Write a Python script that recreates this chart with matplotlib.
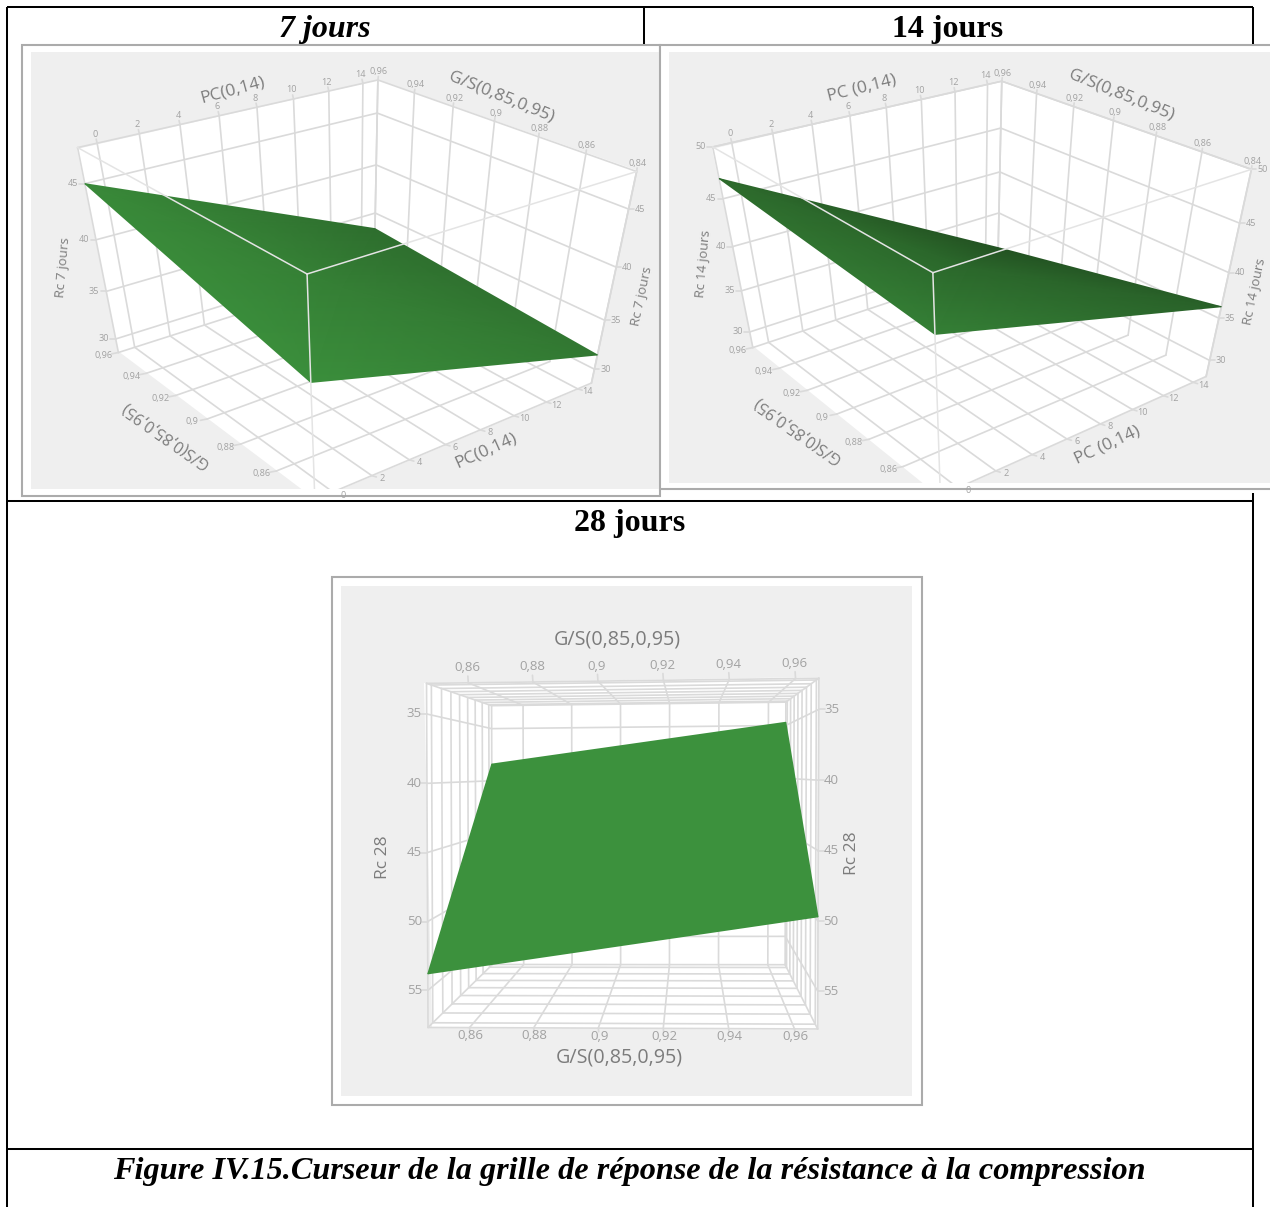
import numpy as np
import matplotlib
matplotlib.use("Agg")
import matplotlib.pyplot as plt
from matplotlib.colors import LinearSegmentedColormap
from matplotlib.patches import Rectangle, Polygon

# axis ticks
gs_ticks_top = [0.96, 0.94, 0.92, 0.9, 0.88, 0.86, 0.84]
gs_ticks_low = [0.96, 0.94, 0.92, 0.9, 0.88, 0.86]
gs_ticks_28 = [0.86, 0.88, 0.9, 0.92, 0.94, 0.96]
pc_ticks = [0, 2, 4, 6, 8, 10, 12, 14]
rc_ticks_7 = [30, 35, 40, 45]
rc_ticks_14 = [30, 35, 40, 45, 50]
rc_ticks_28 = [35, 40, 45, 50, 55]

# surface corners, order: (gs low, pc low), (gs low, pc high), (gs high, pc low), (gs high, pc high)
surf_7 = [39.6, 31.5, 45.0, 33.3]
surf_14 = [44.8, 36.3, 47.0, 30.5]
surf_28 = [53.8, 38.4, 49.7, 34.7]

# box limits of each plot
gs_lim = [0.84, 0.96]
gs_lim_28 = [0.847, 0.967]
pc_lim = [-0.9, 14.9]
rc_lim_7 = [28.5, 48.0]
rc_lim_14 = [28.0, 50.0]
rc_lim_28 = [32.8, 57.7]

GRID = "#dadada"
TICK = "#a2a2a2"
LABEL = "#7c7c7c"
SANS = "Open Sans"
SERIF = "Liberation Serif"


def fit_camera(corners, gs, pc, rc):
    # projective camera from the 8 box corners (pixel places on the page)
    rows = []
    for (i, j, k), (u, v) in corners.items():
        p = [gs[i], pc[j], rc[k], 1.0]
        rows.append(p + [0, 0, 0, 0] + [-u * c for c in p])
        rows.append([0, 0, 0, 0] + p + [-v * c for c in p])
    A = np.array(rows)
    _, _, vt = np.linalg.svd(A / np.abs(A).max(axis=0))
    m = vt[-1] / np.abs(A).max(axis=0)
    return m.reshape(3, 4)


def project(cam, gs, pc, rc):
    q = cam @ np.array([gs, pc, rc, 1.0])
    return q[0] / q[2], q[1] / q[2]


def seg(ax, clip, a, b, color=GRID, lw=1.2, z=2):
    line, = ax.plot([a[0], b[0]], [a[1], b[1]], color=color, lw=lw, zorder=z, solid_capstyle="round")
    if clip is not None:
        line.set_clip_path(clip)


def tick_text(ax, clip, p, off, s, size):
    seg(ax, clip, p, (p[0] + off[0] * 0.45, p[1] + off[1] * 0.45))
    t = ax.text(p[0] + off[0], p[1] + off[1], s, color=TICK, fontsize=size, family=SANS,
                ha="center", va="center", zorder=6)
    if clip is not None:
        t.set_clip_path(clip)


def fmt(v):
    return f"{v:g}".replace(".", ",")


def draw_grid(ax, clip, cam, gs, pc, rc, gs_t, pc_t, rc_t, faces):
    for axis, val in faces:
        if axis != 0:
            for g in gs_t:
                a = [g, pc[0], rc[0]]
                b = [g, pc[1], rc[1]]
                a[axis] = val
                b[axis] = val
                if axis == 1:
                    a[2], b[2] = rc[0], rc[1]
                else:
                    a[1], b[1] = pc[0], pc[1]
                seg(ax, clip, project(cam, *a), project(cam, *b))
        if axis != 1:
            for c in pc_t:
                a = [gs[0], c, rc[0]]
                b = [gs[1], c, rc[1]]
                a[axis] = val
                b[axis] = val
                if axis == 0:
                    a[2], b[2] = rc[0], rc[1]
                else:
                    a[0], b[0] = gs[0], gs[1]
                seg(ax, clip, project(cam, *a), project(cam, *b))
        if axis != 2:
            for r in rc_t:
                a = [gs[0], pc[0], r]
                b = [gs[1], pc[1], r]
                a[axis] = val
                b[axis] = val
                seg(ax, clip, project(cam, *a), project(cam, *b))


def draw_box_edges(ax, clip, cam, gs, pc, rc):
    for i in (0, 1):
        for j in (0, 1):
            seg(ax, clip, project(cam, gs[i], pc[j], rc[0]), project(cam, gs[i], pc[j], rc[1]))
            seg(ax, clip, project(cam, gs[i], pc[0], rc[j]), project(cam, gs[i], pc[1], rc[j]))
            seg(ax, clip, project(cam, gs[0], pc[i], rc[j]), project(cam, gs[1], pc[i], rc[j]))


def draw_surface(ax, clip, cam, gs, pc, values, shades, cmap):
    xs = np.zeros((2, 2))
    ys = np.zeros((2, 2))
    cs = np.array(shades, dtype=float).reshape(2, 2)
    vals = np.array(values).reshape(2, 2)
    for i in (0, 1):
        for j in (0, 1):
            xs[i, j], ys[i, j] = project(cam, gs[i], pc[j], vals[i, j])
    mesh = ax.pcolormesh(xs, ys, cs, shading="gouraud", cmap=cmap, vmin=0, vmax=1, zorder=4)
    mesh.set_clip_path(clip)


def frame(ax, x0, y0, x1, y1, bg):
    ax.add_patch(Rectangle((x0, y0), x1 - x0, y1 - y0, fc="white", ec="#ababab", lw=1.5, zorder=1))
    ax.add_patch(Rectangle((bg[0], bg[1]), bg[2] - bg[0], bg[3] - bg[1], fc="#efefef", ec="none", zorder=1))
    clip = Rectangle((bg[0], bg[1]), bg[2] - bg[0], bg[3] - bg[1], transform=ax.transData)
    return clip


def corner_panel(ax, clip, corners, rc, rc_t, values, shades, rc_name, pc_name, label_pos, rc_off):
    cam = fit_camera(corners, gs_lim, pc_lim, rc)
    hull = [corners[k] for k in [(1, 0, 1), (1, 1, 1), (0, 1, 1), (0, 1, 0), (0, 0, 0), (1, 0, 0)]]
    white = Polygon(hull, fc="white", ec="none", zorder=1.5)
    ax.add_patch(white)
    white.set_clip_path(clip)

    gs0, gs1 = gs_lim
    pc0, pc1 = pc_lim
    draw_grid(ax, clip, cam, gs_lim, pc_lim, rc, gs_ticks_top, pc_ticks, rc_t,
              [(0, gs1), (1, pc1), (2, rc[0])])
    for a, b in [((gs1, pc0, rc[1]), (gs1, pc1, rc[1])), ((gs1, pc1, rc[1]), (gs0, pc1, rc[1])),
                 ((gs1, pc0, rc[0]), (gs1, pc0, rc[1])), ((gs0, pc1, rc[0]), (gs0, pc1, rc[1])),
                 ((gs1, pc1, rc[0]), (gs1, pc1, rc[1]))]:
        seg(ax, clip, project(cam, *a), project(cam, *b))

    for c in pc_ticks:
        tick_text(ax, clip, project(cam, gs1, c, rc[1]), (-2, -9), fmt(c), 6.6)
        tick_text(ax, clip, project(cam, gs0, c, rc[0]), (10, 3), fmt(c), 6.6)
    for g in gs_ticks_top:
        tick_text(ax, clip, project(cam, g, pc1, rc[1]), (1, -8), fmt(g), 6.6)
    for g in gs_ticks_low:
        tick_text(ax, clip, project(cam, g, pc0, rc[0]), (-15, 3), fmt(g), 6.6)
    for r in rc_t:
        tick_text(ax, clip, project(cam, gs1, pc0, r), (rc_off[0], 0), fmt(r), 6.6)
        tick_text(ax, clip, project(cam, gs0, pc1, r), (rc_off[1], 0), fmt(r), 6.6)

    grad = LinearSegmentedColormap.from_list("g", ["#235222", "#3b8f3c"])
    draw_surface(ax, clip, cam, gs_lim, pc_lim, values, shades, grad)

    # front edges of the box run over the surface
    for a, b in [((gs1, pc0, rc[1]), (gs0, pc0, rc[1])), ((gs0, pc0, rc[1]), (gs0, pc1, rc[1])),
                 ((gs0, pc0, rc[1]), (gs0, pc0, rc[0]))]:
        pa = project(cam, *a)
        pb = project(cam, *b)
        line, = ax.plot([pa[0], pb[0]], [pa[1], pb[1]], color="#e4e4e4", lw=1.1, zorder=5)
        line.set_clip_path(clip)

    names = ["G/S(0,85,0,95)", pc_name, "G/S(0,85,0,95)", pc_name, rc_name, rc_name]
    sizes = [12.5, 12.5, 11.5, 12.5, 9.5, 9.5]
    for (x, y, rot), name, size in zip(label_pos, names, sizes):
        ax.text(x, y, name, color=LABEL, fontsize=size, family=SANS, rotation=rot,
                rotation_mode="anchor", ha="center", va="center", zorder=6)


fig = plt.figure(figsize=(12.7, 12.07), dpi=100)
ax = fig.add_axes([0, 0, 1, 1])
ax.set_xlim(0, 1270)
ax.set_ylim(1207, 0)
ax.axis("off")

# panel 7 jours
clip_7 = frame(ax, 21.5, 45, 660, 496, (31, 52, 659, 489))
corners_7 = {
    (1, 0, 1): (77, 149), (1, 1, 1): (379, 80), (0, 1, 1): (636, 170), (0, 0, 1): (307, 274),
    (1, 0, 0): (118, 351), (1, 1, 0): (374, 271), (0, 1, 0): (591, 384), (0, 0, 0): (316, 500),
}
corner_panel(ax, clip_7, corners_7, rc_lim_7, rc_ticks_7, surf_7, [1.0, 0.62, 0.9, 0.45],
             "Rc 7 jours", "PC(0,14)",
             [(501, 97, -22), (233, 90, 15), (165, 435, 145), (486, 451, 24), (63, 267, 85), (642, 296, 78)],
             (-12, 11))

# panel 14 jours
clip_14 = frame(ax, 660, 45, 1275, 489, (669, 52, 1270, 483))
corners_14 = {
    (1, 0, 1): (712, 149), (1, 1, 1): (1002, 80), (0, 1, 1): (1251, 170), (0, 0, 1): (934, 271),
    (1, 0, 0): (753, 346), (1, 1, 0): (998, 267), (0, 1, 0): (1206, 376), (0, 0, 0): (940, 497),
}
corner_panel(ax, clip_14, corners_14, rc_lim_14, rc_ticks_14, surf_14, [0.75, 0.25, 0.4, 0.0],
             "Rc 14 jours", "PC (0,14)",
             [(1121, 95, -22), (862, 88, 14), (797, 430, 145), (1107, 445, 25), (703, 264, 85), (1255, 292, 78)],
             (-12, 11))

# panel 28 jours
clip_28 = frame(ax, 331.5, 577, 922, 1105, (341, 586, 912, 1096))
corners_28 = {
    (0, 0, 0): (424, 683), (1, 0, 0): (818, 677), (0, 0, 1): (432, 1028), (1, 0, 1): (817, 1030),
    (0, 1, 0): (494, 706), (1, 1, 0): (786, 703), (0, 1, 1): (489, 964), (1, 1, 1): (786, 964),
}
white = Polygon([corners_28[k] for k in [(0, 0, 0), (1, 0, 0), (1, 0, 1), (0, 0, 1)]], fc="white", ec="none", zorder=1.5)
ax.add_patch(white)
cam_28 = fit_camera(corners_28, gs_lim_28, pc_lim, rc_lim_28)
draw_grid(ax, clip_28, cam_28, gs_lim_28, pc_lim, rc_lim_28, gs_ticks_28, pc_ticks, rc_ticks_28,
          [(1, pc_lim[1]), (0, gs_lim_28[0]), (0, gs_lim_28[1]), (2, rc_lim_28[0]), (2, rc_lim_28[1])])
draw_box_edges(ax, clip_28, cam_28, gs_lim_28, pc_lim, rc_lim_28)
for g in gs_ticks_28:
    tick_text(ax, clip_28, project(cam_28, g, pc_lim[0], rc_lim_28[0]), (-1, -15), fmt(g), 9.5)
    tick_text(ax, clip_28, project(cam_28, g, pc_lim[0], rc_lim_28[1]), (1, 8), fmt(g), 9.5)
for r in rc_ticks_28:
    tick_text(ax, clip_28, project(cam_28, gs_lim_28[0], pc_lim[0], r), (-13, 0), fmt(r), 9.5)
    tick_text(ax, clip_28, project(cam_28, gs_lim_28[1], pc_lim[0], r), (13, 0), fmt(r), 9.5)
flat = LinearSegmentedColormap.from_list("f", ["#3b8f3c", "#3d933d"])
draw_surface(ax, clip_28, cam_28, gs_lim_28, pc_lim, surf_28, [0.5, 0.5, 0.5, 0.5], flat)
for x, y, s, rot, size in [(617, 640, "G/S(0,85,0,95)", 0, 14.2), (619, 1058, "G/S(0,85,0,95)", 0, 14.2),
                           (383, 857, "Rc 28", 90, 12.5), (852, 853, "Rc 28", 90, 12.5)]:
    ax.text(x, y, s, color=LABEL, fontsize=size, family=SANS, rotation=rot, ha="center", va="center", zorder=6)

# table rules
for x0, y0, x1, y1 in [(7, 6.5, 1253, 6.5), (7, 6.5, 7, 1207), (644, 6.5, 644, 44), (1253, 6.5, 1253, 44),
                       (1253, 493, 1253, 1207), (7, 501, 1253, 501), (7, 1149, 1253, 1149)]:
    ax.plot([x0, x1], [y0, y1], color="black", lw=1.45, zorder=8, solid_capstyle="butt")

# headers and caption
ax.text(325, 29, "7 jours", family=SERIF, fontsize=23, fontweight="bold", fontstyle="italic", ha="center", va="center", zorder=9)
ax.text(948, 29, "14 jours", family=SERIF, fontsize=23, fontweight="bold", ha="center", va="center", zorder=9)
ax.text(630, 523, "28 jours", family=SERIF, fontsize=23, fontweight="bold", ha="center", va="center", zorder=9)
ax.text(629, 1172, "Figure IV.15.Curseur de la grille de réponse de la résistance à la compression", family=SERIF,
        fontsize=23.2, fontweight="bold", fontstyle="italic", ha="center", va="center", zorder=9)

fig.savefig("out.png", dpi=100)
